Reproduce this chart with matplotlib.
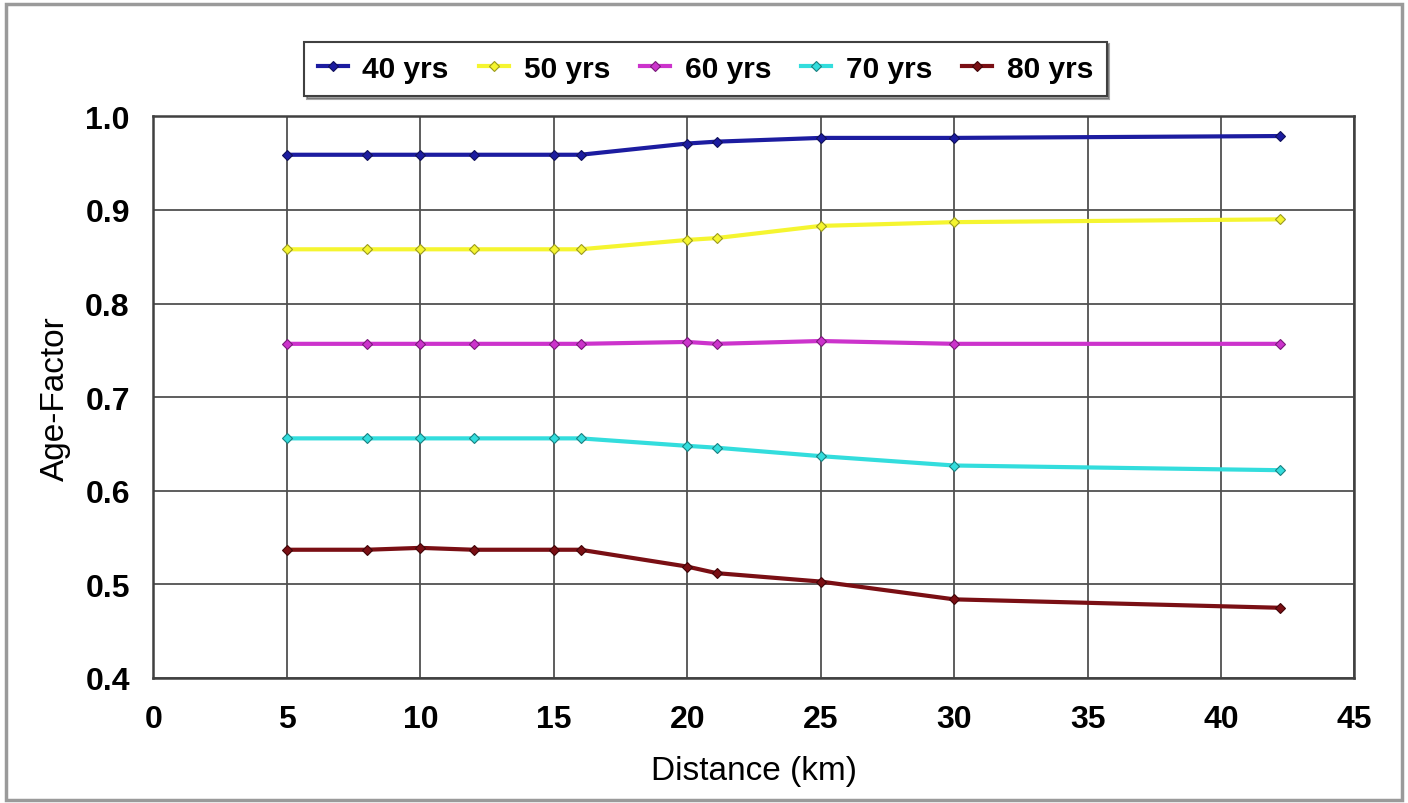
import matplotlib
matplotlib.use("Agg")
from matplotlib import pyplot as plt
from matplotlib.patches import Rectangle

plt.rcParams['font.family'] = ['Liberation Sans', 'DejaVu Sans']

distance = [5, 8, 10, 12, 15, 16, 20, 21.1, 25, 30, 42.2]
yrs40 = [0.959, 0.959, 0.959, 0.959, 0.959, 0.959, 0.971, 0.973, 0.977, 0.977, 0.979]
yrs50 = [0.858, 0.858, 0.858, 0.858, 0.858, 0.858, 0.868, 0.870, 0.883, 0.887, 0.890]
yrs60 = [0.757, 0.757, 0.757, 0.757, 0.757, 0.757, 0.759, 0.757, 0.760, 0.757, 0.757]
yrs70 = [0.656, 0.656, 0.656, 0.656, 0.656, 0.656, 0.648, 0.646, 0.637, 0.627, 0.622]
yrs80 = [0.537, 0.537, 0.539, 0.537, 0.537, 0.537, 0.519, 0.512, 0.503, 0.484, 0.475]

series = [
    ("40 yrs", yrs40, "#1c1ca0", "#10105a"),
    ("50 yrs", yrs50, "#f5f530", "#9a9a20"),
    ("60 yrs", yrs60, "#cc33cc", "#7a1a7a"),
    ("70 yrs", yrs70, "#33dddd", "#1a8080"),
    ("80 yrs", yrs80, "#7a0f14", "#400508"),
]

fig = plt.figure(figsize=(14.08, 8.04), dpi=100)
# moldura exterior
fig.patches.append(Rectangle((0.004, 0.004), 0.992, 0.99, transform=fig.transFigure,
                             fill=False, edgecolor="#9a9a9a", linewidth=2.5))
ax = fig.add_axes([0.109, 0.1555, 0.853, 0.6985])

for nome, valores, cor, cor_borda in series:
    ax.plot(distance, valores, color=cor, linewidth=3, marker="D", markersize=5,
            markerfacecolor=cor, markeredgecolor=cor_borda, markeredgewidth=0.8, label=nome)

ax.set_xlim(0, 45)
ax.set_ylim(0.4, 1.0)
ax.set_xticks(range(0, 46, 5))
ax.set_yticks([0.4, 0.5, 0.6, 0.7, 0.8, 0.9, 1.0])
ax.set_yticklabels(["0.4", "0.5", "0.6", "0.7", "0.8", "0.9", "1.0"])
ax.grid(True, color="#505050", linewidth=1.3)
ax.set_axisbelow(True)
for s in ax.spines.values():
    s.set_color("#404040")
    s.set_linewidth(1.8)
ax.tick_params(axis="y", length=0, pad=17, labelsize=23)
ax.tick_params(axis="x", length=0, pad=19, labelsize=23)
for t in ax.get_xticklabels() + ax.get_yticklabels():
    t.set_fontweight("bold")
ax.set_xlabel("Distance (km)", fontsize=24, labelpad=15)
ax.set_ylabel("Age-Factor", fontsize=24, labelpad=10)

leg = ax.legend(loc="center", bbox_to_anchor=(0.501, 0.913), bbox_transform=fig.transFigure,
                ncol=5, frameon=True, fancybox=False, shadow=True,
                handlelength=1.0, handletextpad=0.5, columnspacing=1.0,
                borderpad=0.45, borderaxespad=0, prop={"weight": "bold", "size": 21.5})
leg.get_frame().set_edgecolor("#404040")
leg.get_frame().set_linewidth(1.5)

fig.savefig("out.png", dpi=100)
